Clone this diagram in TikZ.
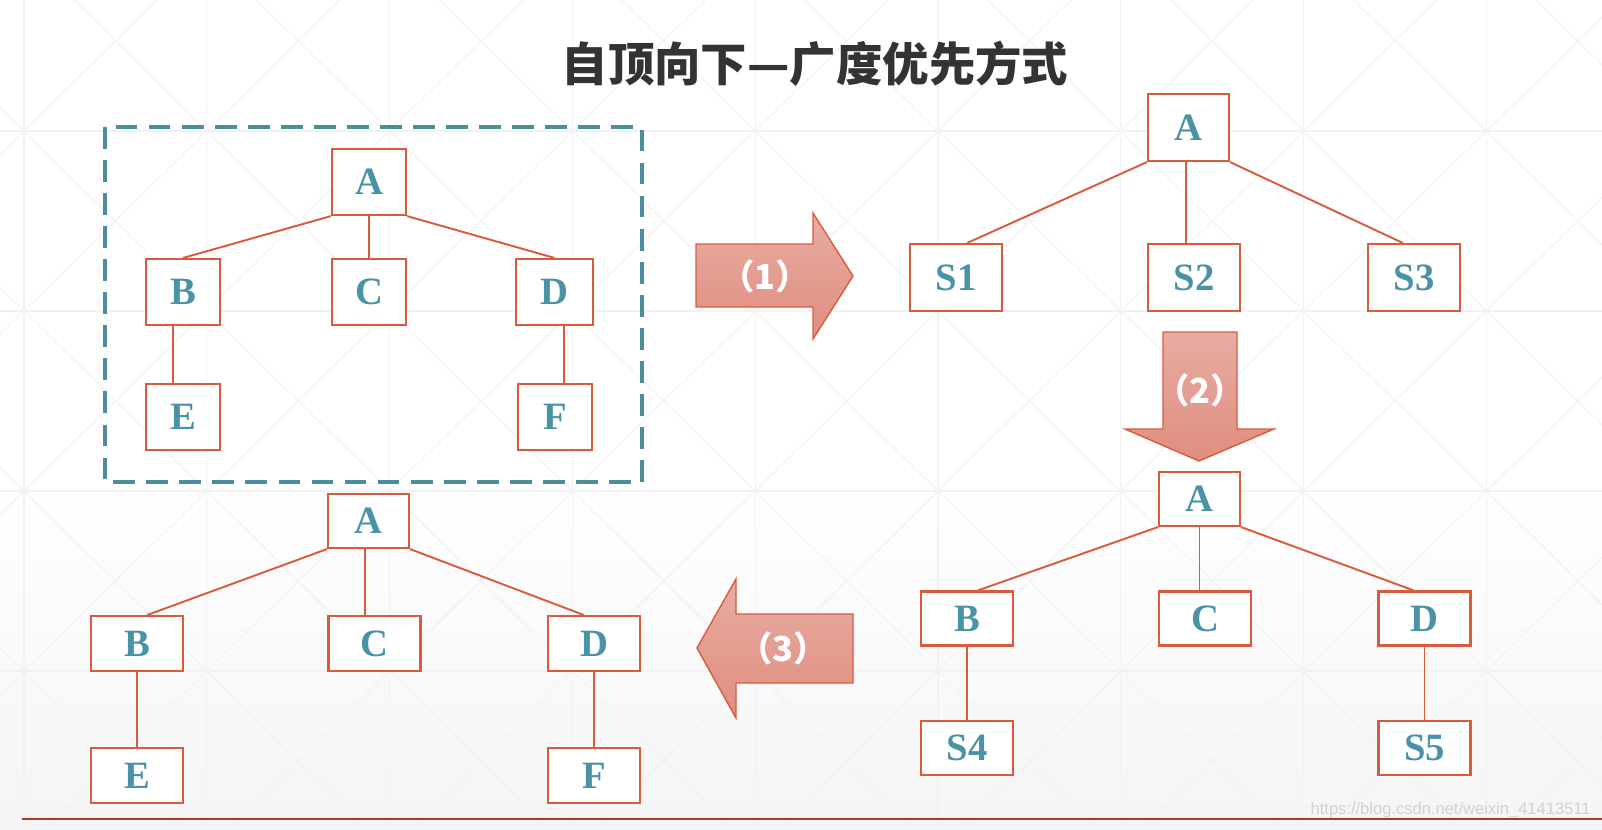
\documentclass[tikz,border=0pt]{standalone}
\usepackage{fontspec}
\setmainfont{Liberation Serif}
\newfontfamily\cjk{Noto Sans CJK SC}
\newfontfamily\wmfont{Liberation Sans}

\definecolor{boxred}{HTML}{D95B3E}
\definecolor{letterteal}{HTML}{4A92A5}
\definecolor{dashteal}{HTML}{4A8E9E}
\definecolor{arrowtop}{HTML}{E8ACA3}
\definecolor{arrowbot}{HTML}{DF8E7F}
\definecolor{titlegray}{HTML}{333333}
\definecolor{rulered}{HTML}{A53A28}

\begin{document}
\begin{tikzpicture}[x=0.01cm, y=-0.01cm,
    tbox/.style={draw=boxred, line width=0.6pt, fill=white, inner sep=0pt,
      text=letterteal, font=\fontsize{11}{12}\selectfont\bfseries},
    tall/.style={tbox, minimum width=0.74cm, minimum height=0.66cm},
    wide/.style={tbox, minimum width=0.92cm, minimum height=0.67cm},
    flat/.style={tbox, minimum width=0.92cm, minimum height=0.54cm},
    link/.style={draw=boxred, line width=0.55pt},
    gridline/.style={draw=black!5, line width=0.3pt},
    bigarrow/.style={top color=arrowtop, bottom color=arrowbot, draw=boxred, line width=0.4pt},
    steplabel/.style={text=white, font=\cjk\bfseries\fontsize{9.8}{11}\selectfont}]

    \useasboundingbox (0,0) rectangle (1602,829);

    % Background
    \fill[top color=white, bottom color=black!4] (0,470) rectangle (1602,829);
    \begin{scope}
      \clip (0,0) rectangle (1602,829);
      \foreach \i in {0,...,8}
        \draw[gridline] ({24+182.8*\i},0) -- ({24+182.8*\i},829);
      \foreach \j in {131,311,491,671}
        \draw[gridline] (0,\j) -- (1602,\j);
      \foreach \i in {-1,...,8}
        \foreach \j in {-1,...,4} {
          \draw[gridline] ({24+182.8*\i},{131+180*\j}) -- ++(182.8,180);
          \draw[gridline] ({24+182.8*(\i+1)},{131+180*\j}) -- ++(-182.8,180);
        }
    \end{scope}

    % Title
    \node[text=titlegray, font=\cjk\bfseries\fontsize{13.2}{15}\selectfont] (title) at (815,64) {自顶向下—广度优先方式};

    % Tree 0 (top left)
    \draw[dashteal, line width=1.1pt, dash pattern=on 6.2pt off 3.2pt] (104.6,127) rectangle (642,482);
    \node[tall] (tlA) at (369,182) {A};
    \node[tall] (tlB) at (183,292) {B};
    \node[tall] (tlC) at (369,292) {C};
    \node[tall, minimum width=0.77cm] (tlD) at (554.5,292) {D};
    \node[tall] (tlE) at (183,417) {E};
    \node[tall] (tlF) at (555,417) {F};
    \draw[link] (tlA.south west) -- (tlB.north);
    \draw[link] (tlA.south) -- (tlC.north);
    \draw[link] (tlA.south east) -- (tlD.north);
    \draw[link] (tlB.-107) -- (tlB.-107 |- tlE.north);
    \draw[link] (tlD.-74) -- (tlD.-74 |- tlF.north);

    % Arrow (1)
    \shadedraw[bigarrow] (696,244) -- (813,244) -- (813,213) -- (853,276) -- (813,339) -- (813,307) -- (696,307) -- cycle;
    \node[steplabel] (lab1) at (765,276) {（1）};

    % Tree 1 (top right)
    \node[wide, minimum width=0.81cm] (trA) at (1188.5,127.5) {A};
    \node[wide] (trS1) at (956,277.5) {S1};
    \node[wide] (trS2) at (1194,277.5) {S2};
    \node[wide] (trS3) at (1414,277.5) {S3};
    \draw[link] (trA.south west) -- (trS1.72);
    \draw[link] (trA.-94) -- (trA.-94 |- trS2.north);
    \draw[link] (trA.south east) -- (trS3.108);

    % Arrow (2)
    \shadedraw[bigarrow] (1163,332) -- (1237,332) -- (1237,429) -- (1274,429) -- (1199,461) -- (1125,429) -- (1163,429) -- cycle;
    \node[steplabel] (lab2) at (1200,390) {（2）};

    % Tree 2 (bottom right)
    \node[flat, minimum width=0.81cm] (brA) at (1199.5,499) {A};
    \node[flat] (brB) at (967,618.5) {B};
    \node[flat] (brC) at (1205,618.5) {C};
    \node[flat] (brD) at (1424.5,618.5) {D};
    \node[flat] (brS4) at (967,748) {S4};
    \node[flat] (brS5) at (1424.5,748) {S5};
    \draw[link] (brA.south west) -- (brB.69);
    \draw[link] (brA.south) -- (brA.south |- brC.north);
    \draw[link] (brA.south east) -- (brD.111);
    \draw[link] (brB.south) -- (brS4.north);
    \draw[link] (brD.south) -- (brS5.north);

    % Arrow (3)
    \shadedraw[bigarrow] (853,614) -- (736,614) -- (736,579) -- (697,648) -- (736,718) -- (736,683) -- (853,683) -- cycle;
    \node[steplabel] (lab3) at (783,648) {（3）};

    % Tree 3 (bottom left)
    \node[flat, minimum width=0.81cm] (blA) at (368.5,521) {A};
    \node[flat, minimum height=0.55cm] (blB) at (137,643.5) {B};
    \node[flat, minimum height=0.55cm] (blC) at (374.5,643.5) {C};
    \node[flat, minimum height=0.55cm] (blD) at (594,643.5) {D};
    \node[flat, minimum height=0.55cm] (blE) at (137,775.5) {E};
    \node[flat, minimum height=0.55cm] (blF) at (594,775.5) {F};
    \draw[link] (blA.south west) -- (blB.70);
    \draw[link] (blA.-97) -- (blA.-97 |- blC.north);
    \draw[link] (blA.south east) -- (blD.110);
    \draw[link] (blB.south) -- (blE.north);
    \draw[link] (blD.south) -- (blF.north);

    % Bottom rule and watermark
    \draw[rulered, line width=0.7pt] (22,819) -- (1602,819);
    \node[anchor=east, text=black!18, font=\wmfont\fontsize{4.7}{6}\selectfont] (wm) at (1603,810) {https://blog.csdn.net/weixin\_41413511};
  \end{tikzpicture}
\end{document}
